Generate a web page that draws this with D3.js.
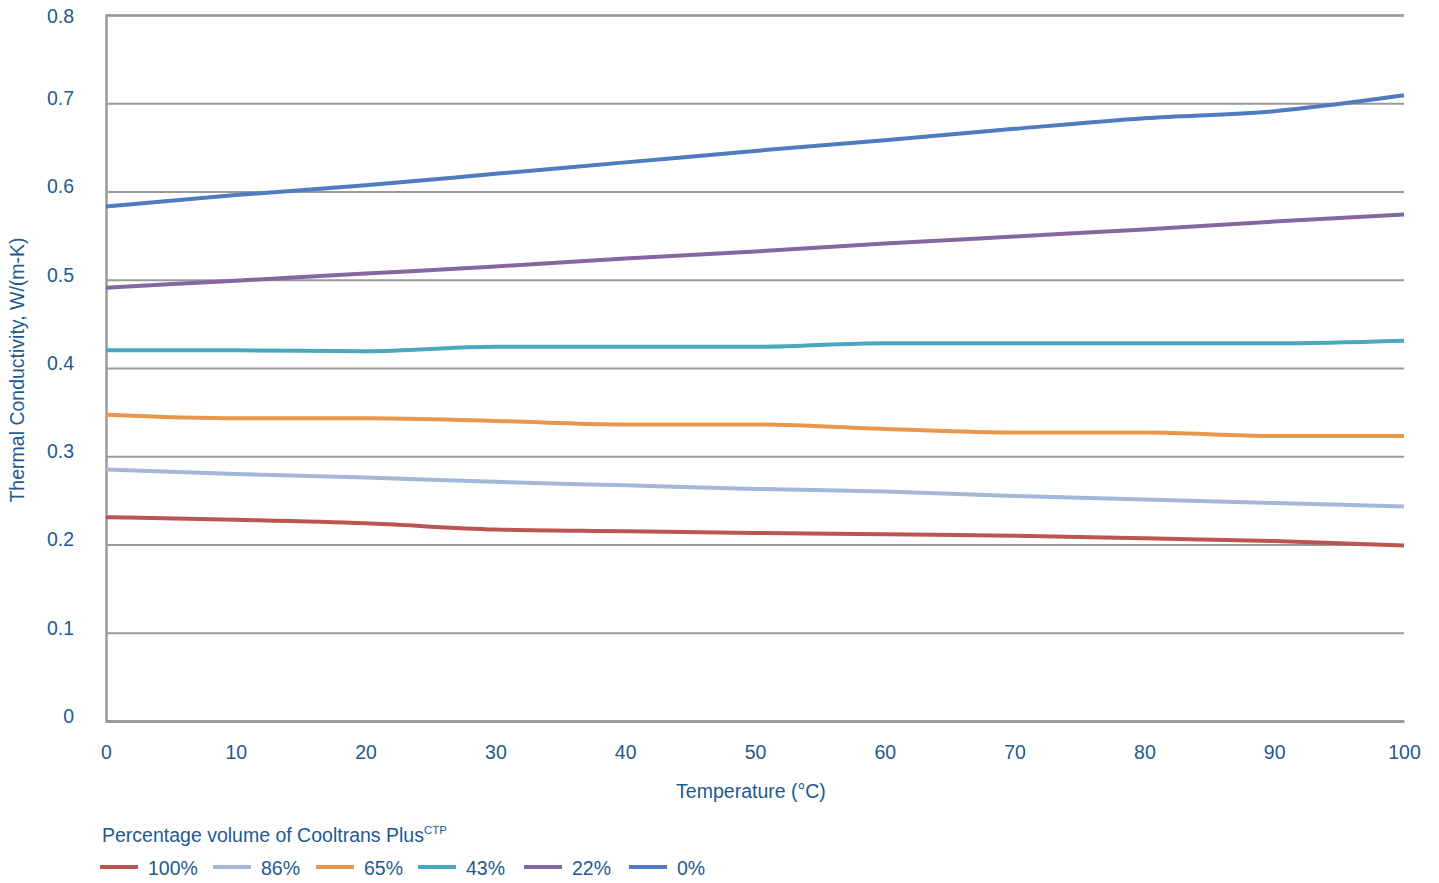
<!DOCTYPE html>
<html>
<head>
<meta charset="utf-8">
<script src="https://cdn.jsdelivr.net/npm/d3@7"></script>
<style>
  html, body { margin: 0; padding: 0; background: #fff; }
  svg { display: block; font-family: "Liberation Sans", Arial, sans-serif; }
</style>
</head>
<body>
<svg id="chart" width="1439" height="883"></svg>
<script>
// Temperature points (°C)
const temps = [0, 10, 20, 30, 40, 50, 60, 70, 80, 90, 100];

// Thermal conductivity, W/(m-K), by percentage volume of Cooltrans Plus CTP
const seriesNames = ["100%", "86%", "65%", "43%", "22%", "0%"];
const k100 = [0.231, 0.228, 0.224, 0.217, 0.215, 0.213, 0.2115, 0.210, 0.207, 0.204, 0.199];
const k86  = [0.285, 0.280, 0.276, 0.271, 0.267, 0.263, 0.260, 0.255, 0.251, 0.247, 0.243];
const k65  = [0.347, 0.343, 0.343, 0.340, 0.336, 0.336, 0.331, 0.327, 0.327, 0.323, 0.323];
const k43  = [0.420, 0.420, 0.419, 0.424, 0.424, 0.424, 0.428, 0.428, 0.428, 0.428, 0.431];
const k22  = [0.491, 0.499, 0.507, 0.515, 0.524, 0.532, 0.541, 0.549, 0.557, 0.566, 0.574];
const k0   = [0.583, 0.596, 0.607, 0.620, 0.633, 0.646, 0.658, 0.671, 0.683, 0.691, 0.709];
const seriesValues = [k100, k86, k65, k43, k22, k0];
const seriesColors = ["#BC5551", "#A3B7D9", "#E8964A", "#4AA8BE", "#8466A0", "#4F7BBF"];

const yTicks = [0, 0.1, 0.2, 0.3, 0.4, 0.5, 0.6, 0.7, 0.8];
const xTicks = [0, 10, 20, 30, 40, 50, 60, 70, 80, 90, 100];

const textColor = "#1E5A8E";
const gridColor = "#9A9A9A";
const fontSize = 19.5;

const svg = d3.select("#chart");
const margin = { left: 106, right: 35, top: 15, bottom: 162 };
const W = 1439, H = 883;

const x = d3.scaleLinear().domain([0, 100]).range([margin.left, W - margin.right]);
const y = d3.scaleLinear().domain([0, 0.8]).range([H - margin.bottom, margin.top]);

// Horizontal gridlines and y labels
const yAxis = d3.axisLeft(y).tickValues(yTicks)
  .tickFormat(d => d === 0 ? "0" : d3.format(".1f")(d))
  .tickSize(-(x.range()[1] - x.range()[0])).tickPadding(32);
const gy = svg.append("g").attr("transform", `translate(${margin.left},0)`).call(yAxis);
gy.select(".domain").attr("stroke", gridColor).attr("stroke-width", 2.5);
gy.selectAll(".tick line").attr("stroke", gridColor).attr("stroke-width", 2);
gy.selectAll(".tick text")
  .attr("fill", textColor).attr("font-size", fontSize)
  .attr("y", d => Math.max(-5, 16 - y(d)))
  .attr("dy", "0.32em");

// x labels
const xAxis = d3.axisBottom(x).tickValues(xTicks).tickSize(0).tickPadding(24);
const gx = svg.append("g").attr("transform", `translate(0,${y(0)})`).call(xAxis);
gx.select(".domain").attr("stroke", gridColor).attr("stroke-width", 2.5);
gx.selectAll(".tick text").attr("fill", textColor).attr("font-size", fontSize);

// Axis titles
svg.append("text")
  .attr("transform", `translate(24,${(y(0) + y(0.8)) / 2 + 2}) rotate(-90)`)
  .attr("text-anchor", "middle").attr("fill", textColor).attr("font-size", fontSize)
  .text("Thermal Conductivity, W/(m-K)");
svg.append("text")
  .attr("x", (x(0) + x(100)) / 2 - 4).attr("y", 798)
  .attr("text-anchor", "middle").attr("fill", textColor).attr("font-size", fontSize)
  .text("Temperature (°C)");

// Series lines
const line = d3.line()
  .x((d, i) => x(temps[i]))
  .y(d => y(d))
  .curve(d3.curveMonotoneX);

svg.append("g").selectAll("path")
  .data(seriesValues)
  .join("path")
  .attr("d", d => line(d))
  .attr("fill", "none")
  .attr("stroke", (d, i) => seriesColors[i])
  .attr("stroke-width", 4)
  .attr("stroke-linecap", "butt");

// Legend
const legendTitle = svg.append("text")
  .attr("x", 102).attr("y", 842)
  .attr("fill", textColor).attr("font-size", fontSize)
  .text("Percentage volume of Cooltrans Plus");
legendTitle.append("tspan")
  .attr("font-size", 11.5).attr("dy", -8)
  .text("CTP");

const legendX = [100, 213, 316, 418, 524, 629];
const legend = svg.append("g");
seriesNames.forEach((name, i) => {
  const g = legend.append("g").attr("transform", `translate(${legendX[i]},867)`);
  g.append("line").attr("x1", 0).attr("x2", 38).attr("y1", 0).attr("y2", 0)
    .attr("stroke", seriesColors[i]).attr("stroke-width", 4);
  g.append("text").attr("x", 48).attr("y", 7.5)
    .attr("fill", textColor).attr("font-size", fontSize).text(name);
});
</script>
</body>
</html>
